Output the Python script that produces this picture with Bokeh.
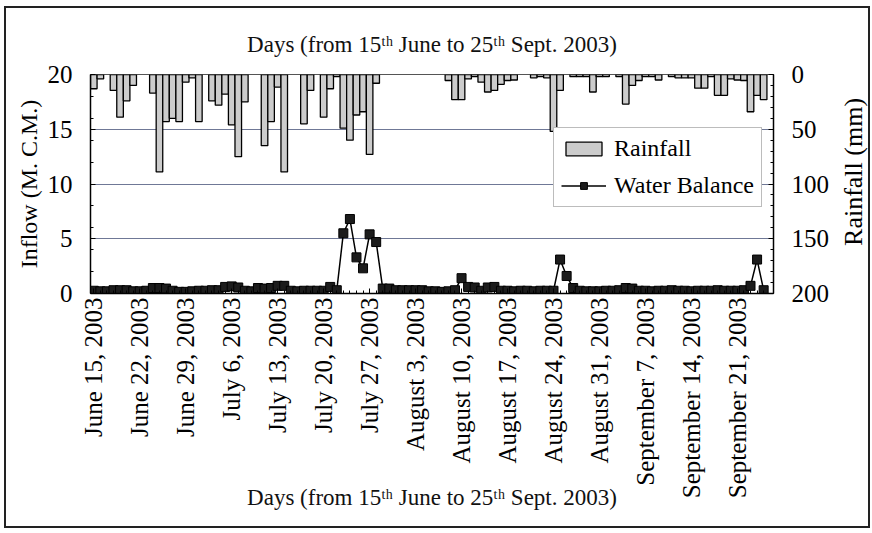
import math
from bokeh.plotting import figure
from bokeh.layouts import row
from bokeh.models import (Range1d, LinearAxis, FixedTicker, ColumnDataSource,
                          Legend, LegendItem, Label)
from bokeh.embed import file_html
from bokeh.resources import INLINE

# ---------------- data ----------------
# day index 0 = June 15, 2003 ... 102 = Sept 25, 2003
day_index = list(range(103))

rainfall_mm = [
    13, 4, 0, 14.5, 39, 24, 10, 0, 0, 17,
    89, 43, 40, 43, 7, 3, 43, 0, 24, 28,
    18, 46, 75, 25, 0, 0, 65, 43, 11.5, 89,
    0, 0, 45, 14.5, 0, 39, 13, 2, 49, 60,
    37, 34, 73, 8, 0, 0, 0, 0, 0, 0,
    0, 0, 0, 0, 5.5, 23, 23, 4, 2, 7,
    16, 14.5, 9, 5.5, 5, 0, 0, 3, 2, 3,
    52, 14.5, 0, 2, 2, 2, 16, 2, 2, 0,
    2, 27, 10, 5.5, 2, 2, 5, 0, 2, 3,
    3, 3, 12.5, 12.5, 2, 19, 19, 4, 5, 5.5,
    34, 19, 23,
]

water_balance_mcm = [
    0.25, 0.2, 0.2, 0.3, 0.3, 0.3, 0.2, 0.2, 0.25, 0.5,
    0.5, 0.45, 0.25, 0.15, 0.15, 0.2, 0.25, 0.25, 0.3, 0.3,
    0.6, 0.65, 0.55, 0.25, 0.2, 0.5, 0.45, 0.5, 0.7, 0.7,
    0.25, 0.2, 0.25, 0.25, 0.25, 0.25, 0.6, 0.3, 5.5, 6.8,
    3.3, 2.3, 5.4, 4.7, 0.45, 0.45, 0.3, 0.3, 0.3, 0.3,
    0.3, 0.2, 0.2, 0.15, 0.2, 0.3, 1.4, 0.6, 0.55, 0.25,
    0.55, 0.6, 0.25, 0.25, 0.2, 0.25, 0.25, 0.2, 0.25, 0.25,
    0.25, 3.1, 1.6, 0.5, 0.25, 0.2, 0.2, 0.2, 0.25, 0.25,
    0.3, 0.5, 0.45, 0.25, 0.25, 0.2, 0.25, 0.25, 0.3, 0.25,
    0.25, 0.2, 0.25, 0.25, 0.25, 0.3, 0.25, 0.25, 0.25, 0.3,
    0.7, 3.1, 0.3,
]

tick_days = [0, 7, 14, 21, 28, 35, 42, 49, 56, 63, 70, 77, 84, 91, 98]
tick_labels = [
    "June 15, 2003", "June 22, 2003", "June 29, 2003", "July 6, 2003",
    "July 13, 2003", "July 20, 2003", "July 27, 2003", "August 3, 2003",
    "August 10, 2003", "August 17, 2003", "August 24, 2003", "August 31, 2003",
    "September 7, 2003", "September 14, 2003", "September 21, 2003",
]
inflow_ticks = [0, 5, 10, 15, 20]
inflow_minor = [2, 4, 6, 8, 12, 14, 16, 18]
rain_ticks = [0, 50, 100, 150, 200]
rain_minor = list(range(0, 201, 10))

title_text = "Days (from 15\u1d57\u02b0 June to 25\u1d57\u02b0 Sept. 2003)"
right_title = "Rainfall (mm)"

# ---------------- figure ----------------
FONT = "Liberation Serif"
H = 518
W_MAIN = 826
W_SIDE = 36
B_TOP, B_BOTTOM = 66, 233

p = figure(width=W_MAIN, height=H, output_backend="svg", toolbar_location=None,
           x_range=Range1d(-0.5, 103.5), y_range=Range1d(0, 20),
           min_border_left=84, min_border_right=56,
           min_border_top=B_TOP, min_border_bottom=B_BOTTOM)
p.background_fill_color = "white"
p.border_fill_color = "white"
p.outline_line_color = "#555555"
p.outline_line_width = 1
p.xgrid.visible = False
p.ygrid.grid_line_color = "#6f7896"
p.ygrid.grid_line_width = 1

# top title
p.title.text = title_text
p.title.align = "center"
p.title.offset = -10
p.title.standoff = 36
p.title.text_font = FONT
p.title.text_font_size = "23px"
p.title.text_font_style = "normal"
p.title.text_color = "#111111"

# rainfall bars (right reversed axis)
p.extra_y_ranges = {"rain": Range1d(200, 0)}
rain_days = [d for d, r in zip(day_index, rainfall_mm) if r > 0]
rain_vals = [r for r in rainfall_mm if r > 0]
src_rain = ColumnDataSource(dict(day=rain_days, rain=rain_vals))
bars = p.vbar(x="day", width=1.0, top=0, bottom="rain", y_range_name="rain",
              source=src_rain, fill_color="#cccccc", line_color="black",
              line_width=1.3)

src_wb = ColumnDataSource(dict(day=day_index, wb=water_balance_mcm))
wb_line = p.line("day", "wb", source=src_wb, line_color="black", line_width=1.5)
wb_pts = p.scatter("day", "wb", source=src_wb, marker="square", size=9,
                   fill_color="#1c1c1c", line_color="black", line_width=1)

# axes
xa = p.xaxis[0]
xa.ticker = FixedTicker(ticks=tick_days, minor_ticks=day_index)
xa.major_label_overrides = {d: t for d, t in zip(tick_days, tick_labels)}
xa.major_label_orientation = math.pi / 2
xa.major_label_standoff = 4
xa.axis_label = title_text
xa.axis_label_standoff = -16

ya = p.yaxis[0]
ya.ticker = FixedTicker(ticks=inflow_ticks, minor_ticks=inflow_minor)
ya.axis_label = "Inflow (M. C.M.)"
ya.major_label_standoff = 18
ya.axis_label_standoff = 3
p.ygrid.ticker = FixedTicker(ticks=inflow_ticks)

ra = LinearAxis(y_range_name="rain",
                ticker=FixedTicker(ticks=rain_ticks, minor_ticks=rain_minor))
ra.major_label_standoff = 18
p.add_layout(ra, "right")

for ax in (xa, ya, ra):
    ax.axis_line_color = "black"
    ax.axis_line_width = 1.5
    ax.major_tick_in = 5
    ax.major_tick_out = 0
    ax.minor_tick_in = 3
    ax.minor_tick_out = 0
    ax.major_tick_line_color = "black"
    ax.minor_tick_line_color = "black"
    ax.major_label_text_font = FONT
    ax.major_label_text_font_size = "25px"
    ax.major_label_text_color = "black"
    ax.axis_label_text_font = FONT
    ax.axis_label_text_font_size = "24px"
    ax.axis_label_text_font_style = "normal"
    ax.axis_label_text_color = "black"
xa.axis_label_text_font_size = "23px"
xa.axis_label_text_color = "#111111"

# legend
legend = Legend(items=[LegendItem(label="Rainfall", renderers=[bars]),
                       LegendItem(label="Water Balance", renderers=[wb_line, wb_pts])],
                location=(463, 86))
legend.label_text_font = FONT
legend.label_text_font_size = "24px"
legend.label_text_color = "black"
legend.glyph_width = 45
legend.glyph_height = 17
legend.label_standoff = 8
legend.padding = 7
legend.spacing = 10
legend.margin = 0
legend.border_line_color = "#7a7a7a"
legend.border_line_width = 1
legend.background_fill_color = "white"
legend.background_fill_alpha = 1
p.add_layout(legend, "center")

# narrow side strip carrying the right axis title (reads bottom-to-top);
# its frame is aligned with the main frame, so it shares the inflow scale
q = figure(width=W_SIDE, height=H, output_backend="svg", toolbar_location=None,
           x_range=Range1d(0, W_SIDE), y_range=Range1d(0, 20),
           x_axis_location=None, y_axis_location=None,
           min_border_left=0, min_border_right=0,
           min_border_top=B_TOP, min_border_bottom=B_BOTTOM)
q.outline_line_color = None
q.xgrid.visible = False
q.ygrid.visible = False
q.background_fill_color = "white"
q.border_fill_color = "white"
q.title.visible = False
q.add_layout(Label(x=21, y=11.1, text=right_title, angle=math.pi / 2,
                   text_align="center", text_baseline="middle", text_font=FONT,
                   text_font_size="26px", text_color="black"))

layout = row(p, q, spacing=0)
layout.styles = {"border": "2px solid #222", "margin-left": "4px", "margin-top": "6px"}

open("out.html", "w").write(file_html(layout, INLINE))
